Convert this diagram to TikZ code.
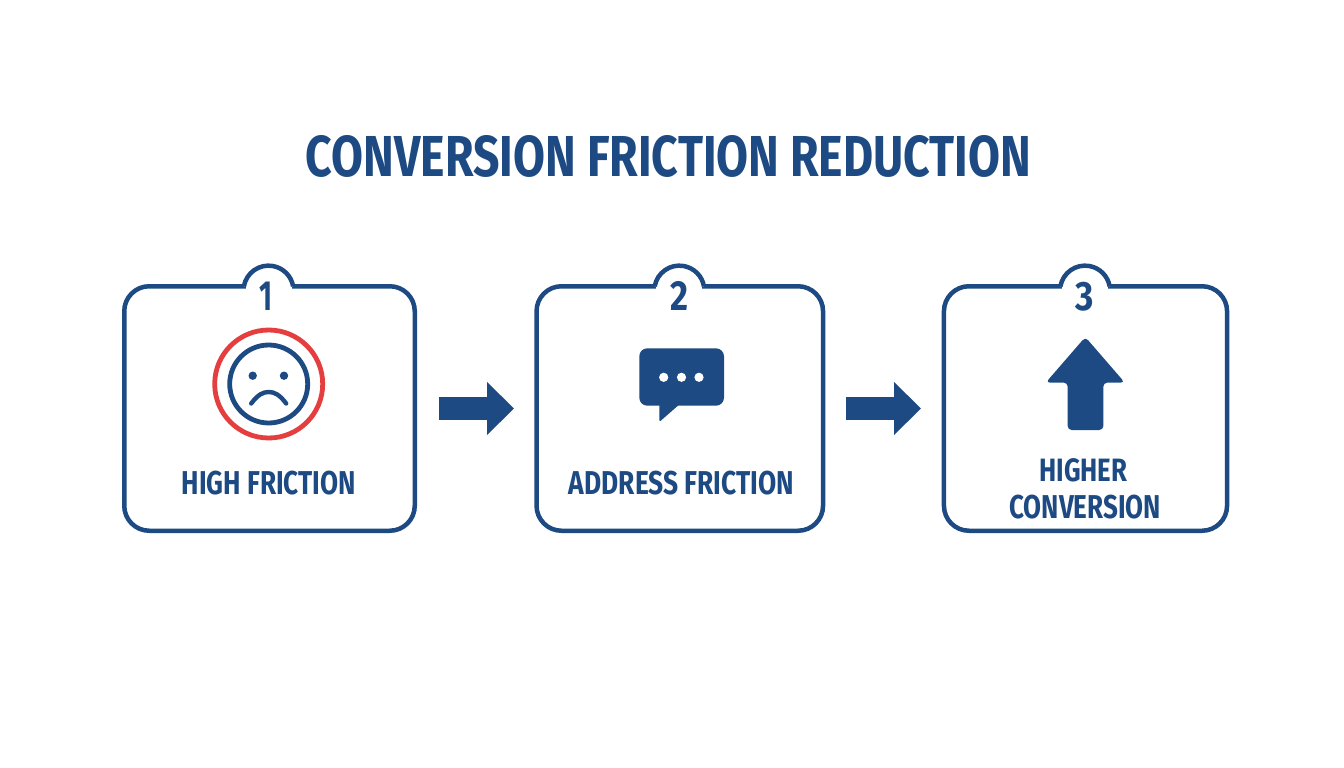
\documentclass[tikz,border=0pt]{standalone}
\usepackage{graphicx}
\usepackage{fontspec}
\setmainfont{Fira Sans}
\usetikzlibrary{arrows.meta,calc}
\definecolor{navy}{HTML}{1D4A82}
\definecolor{alarm}{HTML}{E53E3E}
\newcommand{\fit}[3]{\resizebox*{#1pt}{#2pt}{\bfseries #3}}
\tikzset{
  x=1pt,y=-1pt,
  card/.style={draw=navy,line width=4.5pt,fill=white,rounded corners=25pt,inner sep=0pt},
  label/.style={inner sep=0pt,outer sep=0pt,text=navy},
  flow/.style={draw=navy,line width=23.4pt,-{Triangle[length=27pt,width=51.5pt,fill=navy]}},
  tabline/.style={draw=navy,line width=4.5pt,line cap=butt},
  facestroke/.style={draw=navy,line width=4.8pt},
  glyph/.style={fill=navy,draw=none}
}
\newcommand{\tabon}[2]{%
  \fill[white] ($(#1.north)+(#2-23,-1)$) rectangle ($(#1.north)+(#2+23,5.5)$);
  \fill[white] ($(#1.north)+(#2-24.6,2.3)$) arc[start angle=170,end angle=10,radius=25pt] -- cycle;
  \draw[tabline] ($(#1.north)+(#2-24.6,2.3)$) arc[start angle=170,end angle=10,radius=25pt];
}
\begin{document}
\begin{tikzpicture}
\useasboundingbox (0,0) rectangle (1344,768);
\fill[white] (0,0) rectangle (1344,768);

\node[label] (title) at (668.5,156) {\fit{725}{42}{CONVERSION FRICTION REDUCTION}};

% cards
\node[card,minimum width=290.5pt,minimum height=244.5pt] (card1) at (269.5,408.5) {};
\node[card,minimum width=286.5pt,minimum height=244.5pt] (card2) at (679.8,408.5) {};
\node[card,minimum width=283.1pt,minimum height=244.5pt] (card3) at (1085.5,408.5) {};

\tabon{card1}{-1}
\tabon{card2}{-0.5}
\tabon{card3}{-0.5}

\node[label] (num1) at (265.8,296.3) {\fit{13}{28.5}{1}};
\node[label] (num2) at (679,296.3) {\fit{18}{29}{2}};
\node[label] (num3) at (1085,296.3) {\fit{18.3}{29}{3}};

% connectors
\draw[flow,shorten <=22.3pt,shorten >=20.3pt] (card1.east) -- (card2.west);
\draw[flow,shorten <=20.7pt,shorten >=20.7pt] (card2.east) -- (card3.west);

% sad face
\draw[draw=alarm,line width=4.8pt] (268.7,384) circle[radius=54pt];
\draw[facestroke] (268.7,384) circle[radius=39pt];
\fill[glyph] (252.7,375.7) circle[radius=4.2pt];
\fill[glyph] (284,375.7) circle[radius=4.2pt];
\draw[facestroke,line width=4.4pt,line cap=round] (251.2,403.5) .. controls (258,394.5) and (263,392) .. (268.7,392) .. controls (274.4,392) and (279.4,394.5) .. (286.2,403.5);

% speech bubble
\fill[glyph,rounded corners=8pt] (639.3,348.3) rectangle (724,405.7);
\fill[glyph,rounded corners=1.5pt] (659.3,400) -- (659.3,422) -- (681,403) -- cycle;
\fill[white] (663.7,377.3) circle[radius=4.6pt];
\fill[white] (681.5,377.3) circle[radius=4.6pt];
\fill[white] (699,377.3) circle[radius=4.6pt];

% up arrow
\fill[glyph,rounded corners=4pt] (1085.3,337) -- (1124.8,382.6) -- (1103.3,382.6) -- (1103.3,430) -- (1067.7,430) -- (1067.7,382.6) -- (1045.8,382.6) -- cycle;

% labels
\node[label] (lab1) at (268.9,483) {\fit{174.3}{24}{HIGH FRICTION}};
\node[label] (lab2) at (681.6,483) {\fit{225.3}{24}{ADDRESS FRICTION}};
\node[label] (lab3a) at (1083.3,470.6) {\fit{88}{23.5}{HIGHER}};
\node[label] (lab3b) at (1085.2,507.5) {\fit{151.7}{24}{CONVERSION}};
\end{tikzpicture}
\end{document}
